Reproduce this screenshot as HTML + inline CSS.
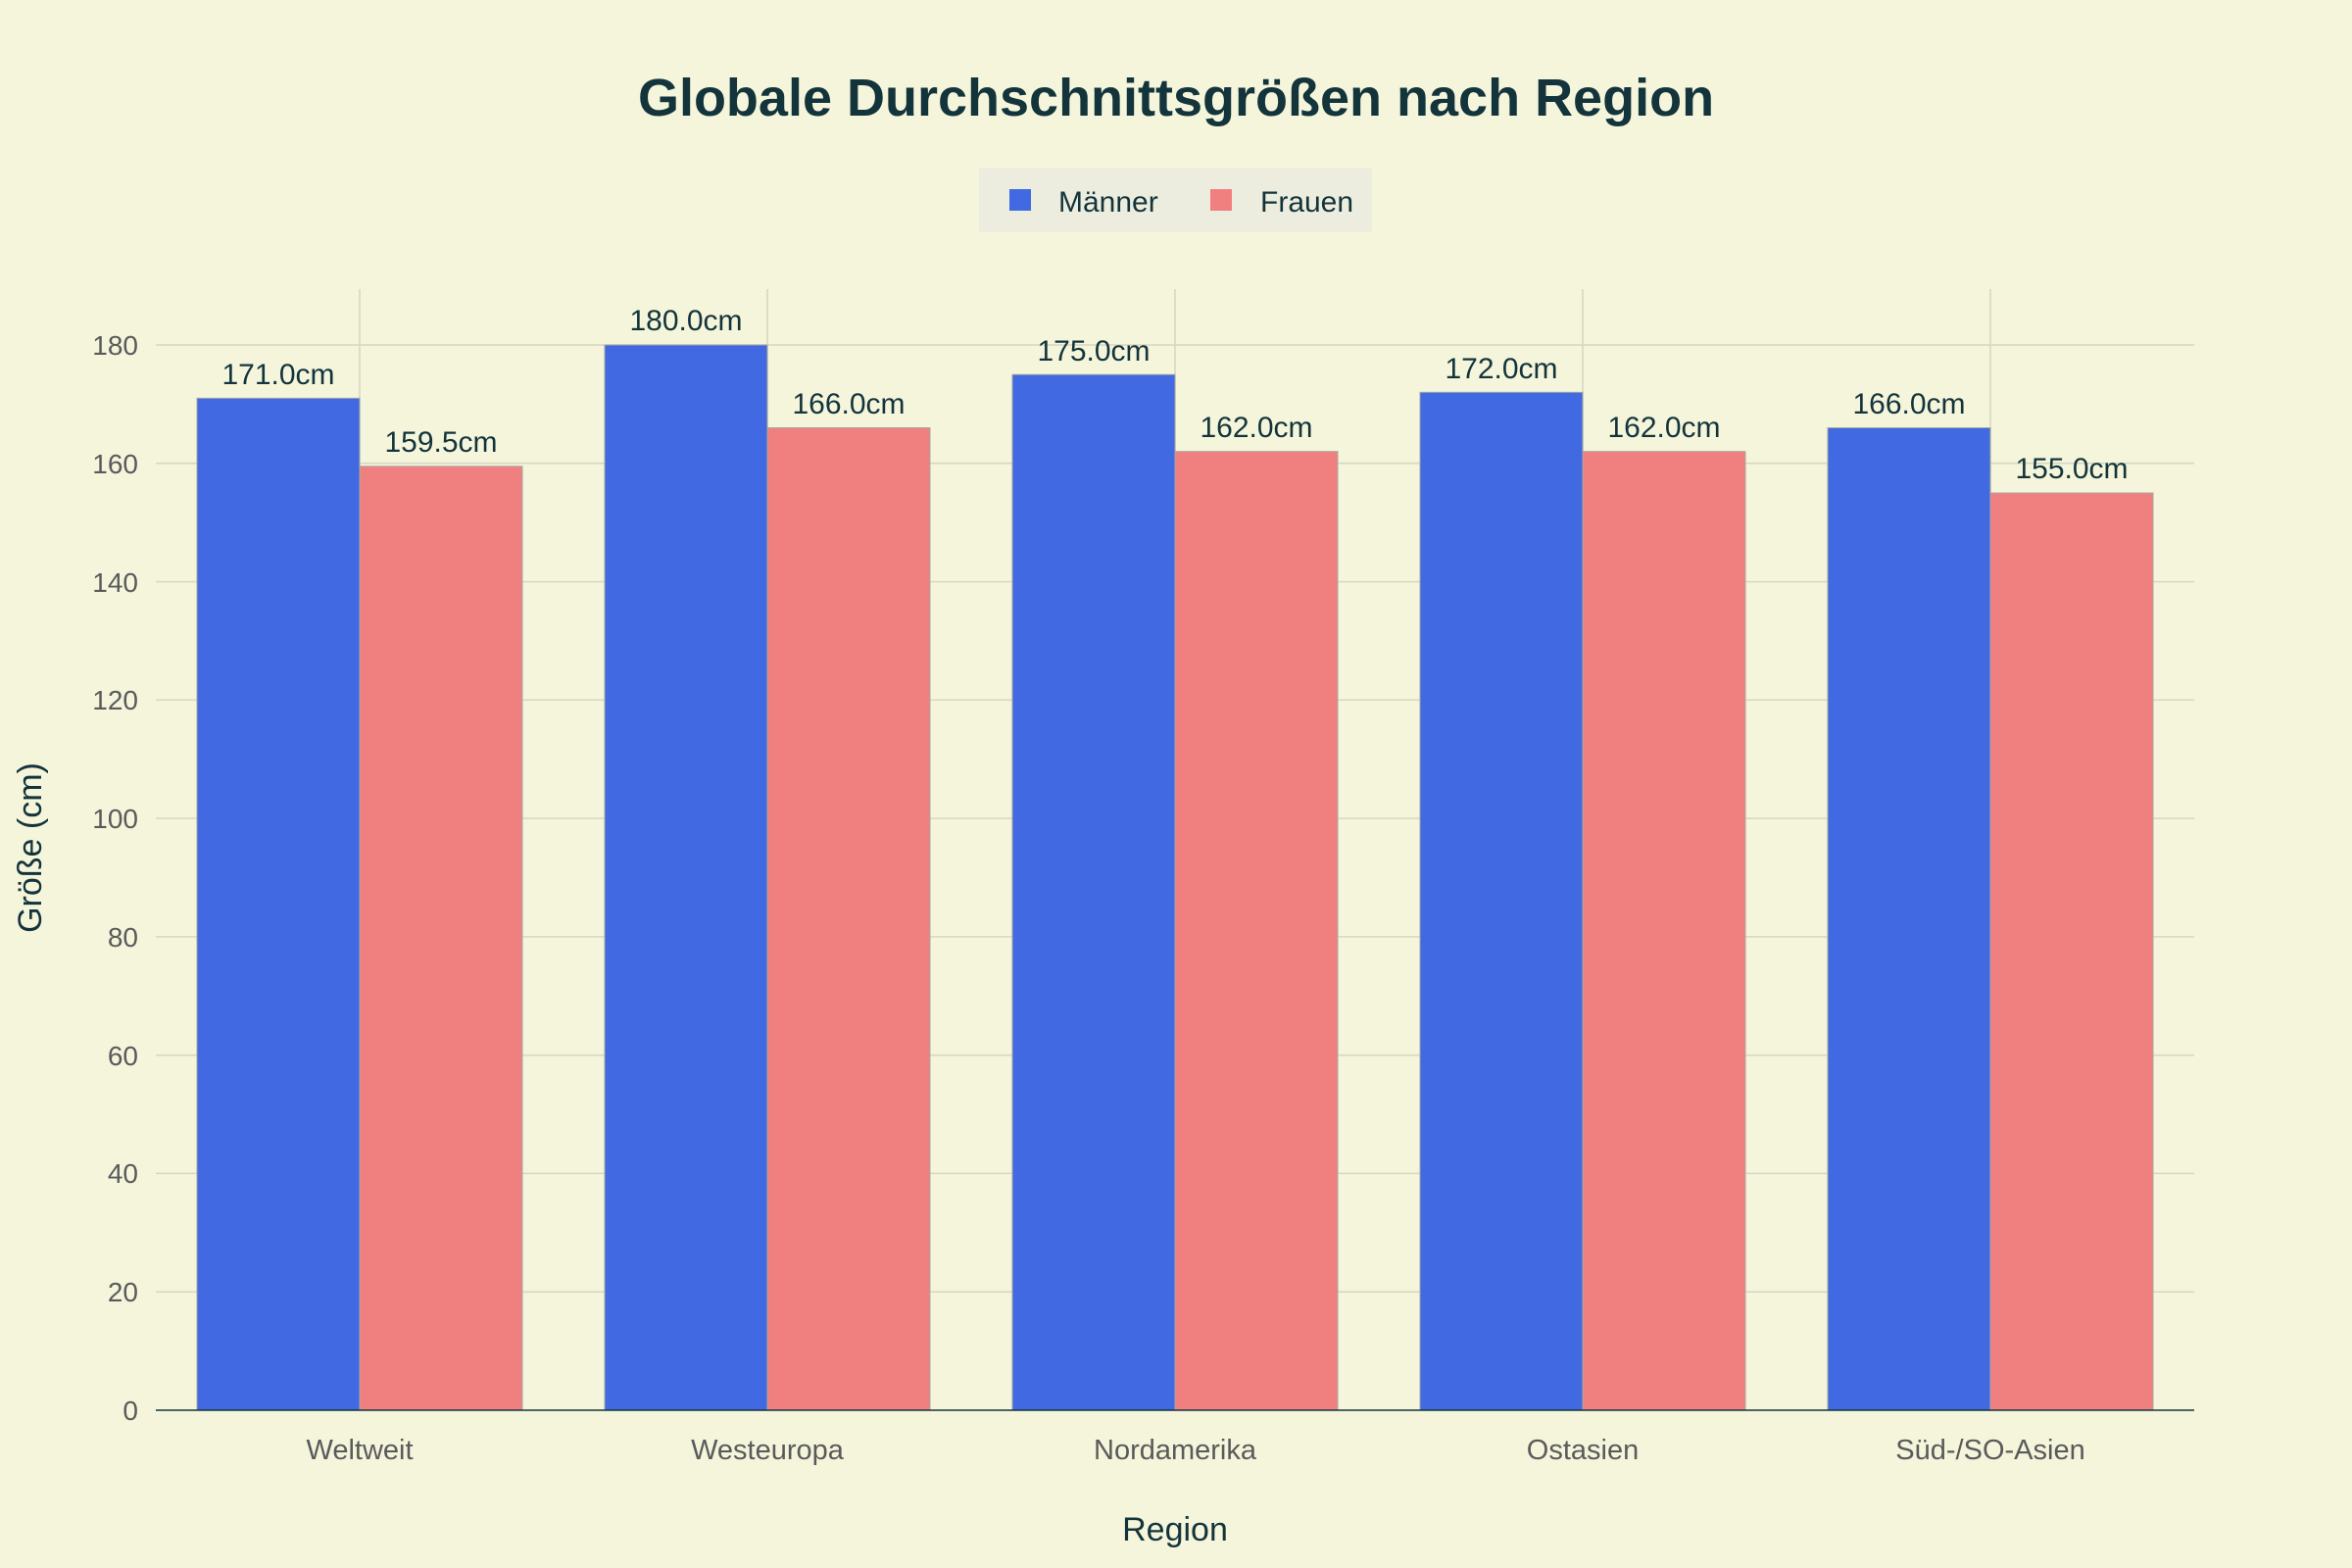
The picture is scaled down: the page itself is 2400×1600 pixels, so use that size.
<!DOCTYPE html>
<html><head><meta charset="utf-8"><style>
html,body{margin:0;padding:0;background:#f5f5dc;}
svg{display:block;font-family:"Liberation Sans",sans-serif;}
</style></head><body>
<svg width="2400" height="1600" viewBox="0 0 2400 1600" xmlns="http://www.w3.org/2000/svg">
<rect width="2400" height="1600" fill="#f5f5dc"/>
<text x="1200" y="118" text-anchor="middle" font-size="54" font-weight="bold" fill="#13343b">Globale Durchschnittsgrößen nach Region</text>
<rect x="999" y="171" width="401" height="66" fill="#ededdf"/>
<rect x="1030" y="193" width="22" height="22" fill="#4169e1"/>
<text x="1080" y="216" font-size="30" fill="#13343b">Männer</text>
<rect x="1235" y="193" width="22" height="22" fill="#f08080"/>
<text x="1286" y="216" font-size="30" fill="#13343b">Frauen</text>
<g stroke="#d6d6c2" stroke-width="1.5">
<line x1="159" x2="2239" y1="1318.2" y2="1318.2"/>
<line x1="159" x2="2239" y1="1197.4" y2="1197.4"/>
<line x1="159" x2="2239" y1="1076.7" y2="1076.7"/>
<line x1="159" x2="2239" y1="955.9" y2="955.9"/>
<line x1="159" x2="2239" y1="835.1" y2="835.1"/>
<line x1="159" x2="2239" y1="714.3" y2="714.3"/>
<line x1="159" x2="2239" y1="593.6" y2="593.6"/>
<line x1="159" x2="2239" y1="472.8" y2="472.8"/>
<line x1="159" x2="2239" y1="352" y2="352"/>
<line x1="367" x2="367" y1="295" y2="1439"/>
<line x1="783" x2="783" y1="295" y2="1439"/>
<line x1="1199" x2="1199" y1="295" y2="1439"/>
<line x1="1615" x2="1615" y1="295" y2="1439"/>
<line x1="2031" x2="2031" y1="295" y2="1439"/>
</g>
<g stroke="#a8a8a0" stroke-width="1">
<rect x="201" y="406.3" width="166" height="1032.7" fill="#4169e1"/>
<rect x="367" y="475.8" width="166" height="963.2" fill="#f08080"/>
<rect x="617" y="352" width="166" height="1087" fill="#4169e1"/>
<rect x="783" y="436.5" width="166" height="1002.5" fill="#f08080"/>
<rect x="1033" y="382.2" width="166" height="1056.8" fill="#4169e1"/>
<rect x="1199" y="460.7" width="166" height="978.3" fill="#f08080"/>
<rect x="1449" y="400.3" width="166" height="1038.7" fill="#4169e1"/>
<rect x="1615" y="460.7" width="166" height="978.3" fill="#f08080"/>
<rect x="1865" y="436.5" width="166" height="1002.5" fill="#4169e1"/>
<rect x="2031" y="503" width="166" height="936" fill="#f08080"/>
</g>
<line x1="159" x2="2239" y1="1439" y2="1439" stroke="#13343b" stroke-width="1.5"/>
<g font-size="30" fill="#13343b" text-anchor="middle">
<text x="284" y="392">171.0cm</text>
<text x="450" y="461">159.5cm</text>
<text x="700" y="337">180.0cm</text>
<text x="866" y="422">166.0cm</text>
<text x="1116" y="368">175.0cm</text>
<text x="1282" y="446">162.0cm</text>
<text x="1532" y="386">172.0cm</text>
<text x="1698" y="446">162.0cm</text>
<text x="1948" y="422">166.0cm</text>
<text x="2114" y="488">155.0cm</text>
</g>
<g font-size="28" fill="#5a5a5a" text-anchor="end">
<text x="141" y="1449">0</text>
<text x="141" y="1328">20</text>
<text x="141" y="1207">40</text>
<text x="141" y="1087">60</text>
<text x="141" y="966">80</text>
<text x="141" y="845">100</text>
<text x="141" y="724">120</text>
<text x="141" y="604">140</text>
<text x="141" y="483">160</text>
<text x="141" y="362">180</text>
</g>
<g font-size="29" fill="#5a5a5a" text-anchor="middle">
<text x="367" y="1489">Weltweit</text>
<text x="783" y="1489">Westeuropa</text>
<text x="1199" y="1489">Nordamerika</text>
<text x="1615" y="1489">Ostasien</text>
<text x="2031" y="1489">Süd-/SO-Asien</text>
</g>
<text x="1199" y="1572" text-anchor="middle" font-size="34" fill="#13343b">Region</text>
<text transform="translate(42,865) rotate(-90)" text-anchor="middle" font-size="34" fill="#13343b">Größe (cm)</text>
</svg>
</body></html>
